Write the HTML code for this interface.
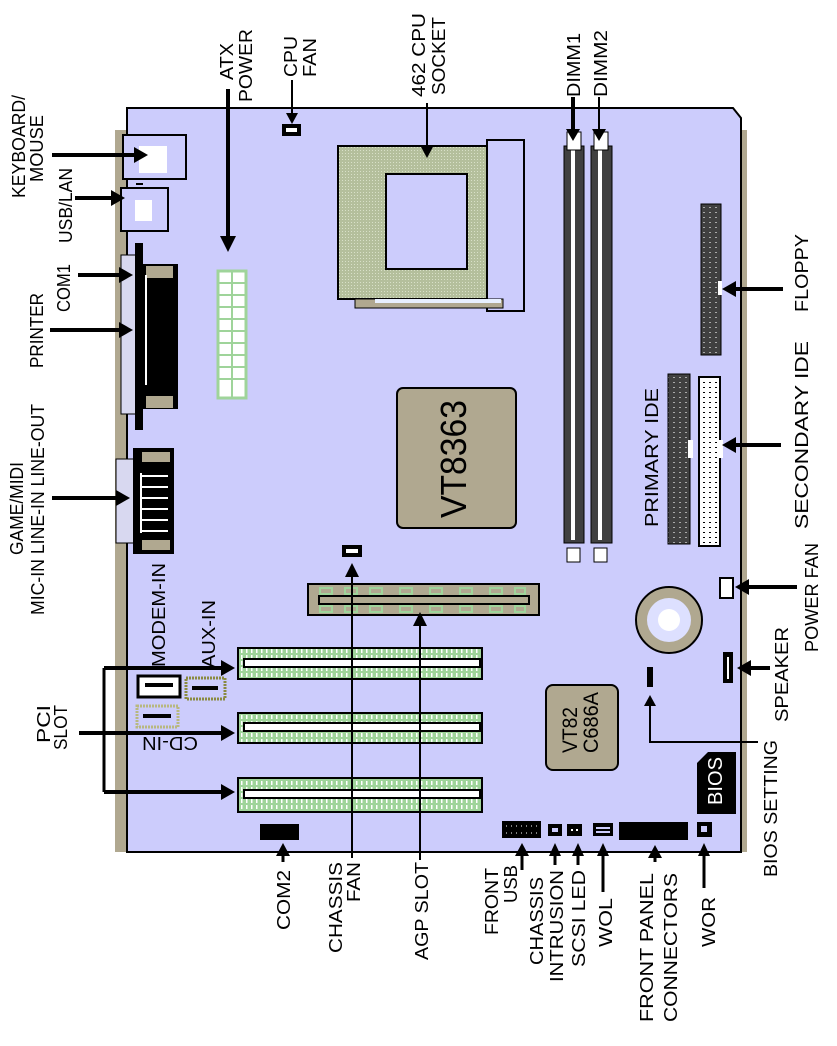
<!DOCTYPE html>
<html><head><meta charset="utf-8"><style>
html,body{margin:0;padding:0;background:#fff;}
svg{display:block;}
text{font-family:"Liberation Sans",sans-serif;font-size:18px;fill:#000;}
</style></head><body>
<svg width="837" height="1046" viewBox="0 0 837 1046" xmlns="http://www.w3.org/2000/svg">
<defs>
<pattern id="pg" width="5" height="6" patternUnits="userSpaceOnUse"><rect width="5" height="6" fill="#9fd49a"/><rect x="1" y="1" width="1.5" height="4" fill="#fff"/></pattern>
<pattern id="dot" width="3" height="3" patternUnits="userSpaceOnUse"><rect width="3" height="3" fill="#b4bf9c"/><rect width="1" height="1" fill="#d8e0c8"/></pattern>
<pattern id="ide" width="6" height="5" patternUnits="userSpaceOnUse"><rect width="6" height="5" fill="#404040"/><rect x="1" y="2" width="2" height="1" fill="#aaa"/></pattern>
<pattern id="idew" width="6" height="5" patternUnits="userSpaceOnUse"><rect width="6" height="5" fill="#fff"/><rect x="1" y="2" width="2" height="1" fill="#000"/></pattern>
</defs>
<rect x="115" y="130" width="14" height="722" fill="#b0a890"/>
<rect x="739" y="130" width="8" height="722" fill="#b0a890"/>
<path d="M127,108 L733,108 L741,118 L741,852 L127,852 Z" fill="#ccccfc" stroke="#000" stroke-width="2"/>

<rect x="123" y="135" width="63" height="44" fill="#ccccfc" stroke="#000" stroke-width="2"/>
<rect x="139" y="146" width="28" height="27" fill="#fff"/>
<rect x="121" y="188" width="47" height="43" fill="#ccccfc" stroke="#000" stroke-width="2"/>
<rect x="135" y="200" width="17" height="21" fill="#fff"/>
<rect x="136" y="183" width="7" height="2" fill="#000"/>
<rect x="121" y="255" width="16" height="159" fill="#d8d8f0" stroke="#000"/>
<rect x="135" y="243" width="8" height="187" fill="#000"/>
<rect x="143" y="264" width="35" height="145" fill="#000"/>
<rect x="146" y="266" width="27" height="12" fill="#b0a890"/>
<rect x="146" y="396" width="27" height="12" fill="#b0a890"/>
<rect x="145" y="275" width="2" height="110" fill="#fff"/>
<rect x="116" y="459" width="18" height="84" fill="#d8d8f0" stroke="#000"/>
<rect x="133" y="448" width="41" height="106" fill="#000"/>
<rect x="142" y="452" width="28" height="10" fill="#b0a890"/>
<rect x="142" y="540" width="28" height="10" fill="#b0a890"/>
<rect x="140" y="473" width="2" height="60" fill="#fff"/>
<rect x="142" y="475" width="26" height="2" fill="#fff"/>
<rect x="142" y="486" width="26" height="2" fill="#fff"/>
<rect x="142" y="497" width="26" height="2" fill="#fff"/>
<rect x="142" y="508" width="26" height="2" fill="#fff"/>
<rect x="142" y="519" width="26" height="2" fill="#fff"/>
<rect x="142" y="530" width="26" height="2" fill="#fff"/>
<rect x="218" y="271" width="28" height="127" fill="#fff" stroke="#9fd49a" stroke-width="3"/>
<path d="M232,271 V398 M218,283 H246 M218,295 H246 M218,307 H246 M218,319 H246 M218,331 H246 M218,343 H246 M218,355 H246 M218,367 H246 M218,379 H246" stroke="#9fd49a" stroke-width="2"/>
<rect x="282" y="124" width="19" height="12" fill="#000"/><rect x="286" y="128" width="11" height="4" fill="#fff"/>
<rect x="487" y="140" width="37" height="171" fill="#ccccfc" stroke="#000" stroke-width="2"/>
<rect x="338" y="146" width="149" height="153" fill="url(#dot)" stroke="#000" stroke-width="2"/>
<rect x="386" y="174" width="81" height="95" fill="#ccccfc" stroke="#000" stroke-width="2"/>
<rect x="355" y="299" width="148" height="9" fill="#b0a890" stroke="#000"/>
<rect x="375" y="299" width="126" height="4" fill="#e8f0ff"/>
<rect x="397" y="388" width="119" height="140" rx="6" fill="#b0a890" stroke="#000" stroke-width="2"/>
<text transform="translate(466,518) rotate(-90)" textLength="118" lengthAdjust="spacingAndGlyphs" style="font-size:36px">VT8363</text>
<rect x="564" y="146" width="20" height="397" fill="#404040" stroke="#000"/>
<rect x="571" y="150" width="4" height="390" fill="#fff"/>
<rect x="591" y="146" width="21" height="397" fill="#404040" stroke="#000"/>
<rect x="598" y="150" width="4" height="390" fill="#fff"/>
<rect x="567" y="132" width="14" height="18" fill="#fff" stroke="#000"/>
<rect x="594" y="132" width="14" height="18" fill="#fff" stroke="#000"/>
<rect x="567" y="548" width="13" height="14" fill="#fff" stroke="#000"/>
<rect x="594" y="548" width="13" height="14" fill="#fff" stroke="#000"/>
<rect x="701" y="204" width="20" height="151" fill="url(#ide)" stroke="#000"/>
<rect x="718" y="281" width="4" height="14" fill="#fff"/>
<rect x="668" y="374" width="22" height="170" fill="url(#ide)" stroke="#000"/>
<rect x="688" y="440" width="5" height="18" fill="#fff"/>
<rect x="699" y="377" width="21" height="169" fill="url(#idew)" stroke="#000" stroke-width="2"/>
<rect x="717" y="440" width="6" height="18" fill="#fff"/>
<rect x="342" y="545" width="20" height="12" fill="#000"/><rect x="346" y="549" width="12" height="4" fill="#fff"/>
<rect x="308" y="584" width="231" height="31" fill="#b0a890" stroke="#000" stroke-width="2"/>
<rect x="319" y="596" width="210" height="8" fill="#b0a890" stroke="#000" stroke-width="2"/>
<g fill="none" stroke="#9fd49a" stroke-width="2">
<path d="M320,588 h12 v6 h-12z M345,588 h12 v6 h-12z M370,588 h12 v6 h-12z M400,588 h12 v6 h-12z M430,588 h12 v6 h-12z M460,588 h12 v6 h-12z M490,588 h12 v6 h-12z M515,588 h10 v6 h-10z"/>
<path d="M320,606 h12 v6 h-12z M345,606 h12 v6 h-12z M370,606 h12 v6 h-12z M400,606 h12 v6 h-12z M430,606 h12 v6 h-12z M460,606 h12 v6 h-12z M490,606 h12 v6 h-12z M515,606 h10 v6 h-10z"/>
</g>
<g stroke="#000" stroke-width="2">
<rect x="238" y="648" width="244" height="31" fill="url(#pg)"/>
<rect x="244" y="659" width="236" height="8" fill="#fff"/>
<rect x="238" y="713" width="244" height="30" fill="url(#pg)"/>
<rect x="244" y="723" width="236" height="8" fill="#fff"/>
<rect x="238" y="778" width="244" height="34" fill="url(#pg)"/>
<rect x="244" y="790" width="236" height="8" fill="#fff"/>
</g>
<circle cx="669" cy="620" r="33" fill="#b0a890" stroke="#000" stroke-width="2"/>
<circle cx="669" cy="620" r="22" fill="#dde0ff"/>
<circle cx="669" cy="620" r="11" fill="#fff"/>
<rect x="720" y="578" width="13" height="20" fill="#fff" stroke="#000" stroke-width="2"/>
<rect x="723" y="652" width="10" height="31" fill="#000"/>
<rect x="727" y="657" width="2" height="22" fill="#fff"/>
<rect x="647" y="667" width="6" height="20" fill="#000"/>
<rect x="546" y="685" width="72" height="85" rx="7" fill="#b0a890" stroke="#000" stroke-width="2"/>
<text transform="translate(577,753) rotate(-90)" textLength="46" lengthAdjust="spacingAndGlyphs" style="font-size:21px">VT82</text>
<text transform="translate(598,753) rotate(-90)" textLength="61" lengthAdjust="spacingAndGlyphs" style="font-size:21px">C686A</text>
<path d="M708,752 H736 V814 H697 V763 Z" fill="#000"/>
<text transform="translate(722,805) rotate(-90)" textLength="48" lengthAdjust="spacingAndGlyphs" style="font-size:20px;fill:#fff">BIOS</text>
<rect x="138" y="676" width="42" height="21" fill="#fff" stroke="#000" stroke-width="3"/>
<rect x="145" y="683" width="28" height="4" fill="#000"/>
<rect x="186" y="678" width="39" height="21" fill="#ccccfc" stroke="#8a8a40" stroke-width="3" stroke-dasharray="2,1"/>
<rect x="192" y="686" width="26" height="4" fill="#000"/>
<rect x="137" y="706" width="41" height="21" fill="#ccccfc" stroke="#b8b880" stroke-width="3" stroke-dasharray="2,1"/>
<rect x="143" y="714" width="28" height="4" fill="#000"/>
<rect x="260" y="824" width="39" height="16" fill="#000"/>
<rect x="502" y="821" width="39" height="17" fill="#000"/>
<path d="M506,826 h32 M506,833 h32" stroke="#fff" stroke-dasharray="1,4"/>
<rect x="548" y="824" width="14" height="12" fill="#000"/><rect x="552" y="828" width="6" height="4" fill="#ccccfc"/>
<rect x="567" y="824" width="15" height="12" fill="#000"/><rect x="571" y="829" width="2" height="2" fill="#fff"/><rect x="576" y="829" width="2" height="2" fill="#fff"/>
<rect x="593" y="823" width="20" height="13" fill="#000"/><rect x="596" y="827" width="14" height="2" fill="#ccccfc"/><rect x="596" y="831" width="14" height="2" fill="#ccccfc"/>
<rect x="619" y="822" width="69" height="18" fill="#000"/>
<rect x="697" y="822" width="15" height="15" fill="#000"/><rect x="701" y="826" width="6" height="6" fill="#ccccfc"/>

<g stroke="#000" fill="none">
<path d="M52,155 H140 M75,198 H118 M78,275 H125 M50,330 H125 M52,498 H122" stroke-width="4"/>
<path d="M104,668 H228 M79,733 H228 M104,792 H228" stroke-width="4"/>
<path d="M104,668 V792" stroke-width="3"/>
<path d="M730,289 H783 M730,445 H781 M742,587 H797 M744,668 H770" stroke-width="4"/>
<path d="M228,89 V240" stroke-width="4"/>
<path d="M292,80 V116 M427,103 V150 M599,97 V132" stroke-width="2"/>
<path d="M573,97 V132" stroke-width="4"/>
<path d="M352,570 V858 M420,620 V860" stroke-width="2"/>
<path d="M283,850 V862 M522,850 V870 M555,850 V865 M578,850 V865 M603,850 V892 M655,852 V862 M704,850 V888" stroke-width="3"/>
<path d="M650,703 V742 H758" stroke-width="2"/>
</g>
<g fill="#000">
<polygon points="148,155 134,147 134,163"/>
<polygon points="125,198 111,190 111,206"/>
<polygon points="133,275 119,267 119,283"/>
<polygon points="133,330 119,322 119,338"/>
<polygon points="130,498 116,490 116,506"/>
<polygon points="235,668 221,660 221,676"/>
<polygon points="235,733 221,725 221,741"/>
<polygon points="235,792 221,784 221,800"/>
<polygon points="722,289 736,281 736,297"/>
<polygon points="722,445 736,437 736,453"/>
<polygon points="735,587 749,579 749,595"/>
<polygon points="737,668 751,660 751,676"/>
<polygon points="228,252 220,236 236,236"/>
<polygon points="292,124 286,113 298,113"/>
<polygon points="427,158 420,145 434,145"/>
<polygon points="573,141 566,129 580,129"/>
<polygon points="599,141 592,129 606,129"/>
<polygon points="352,563 345,577 359,577"/>
<polygon points="420,612 413,626 427,626"/>
<polygon points="283,843 276,856 290,856"/>
<polygon points="522,843 515,856 529,856"/>
<polygon points="555,843 549,856 561,856"/>
<polygon points="578,843 572,856 584,856"/>
<polygon points="603,843 597,856 609,856"/>
<polygon points="655,845 648,858 662,858"/>
<polygon points="704,843 698,856 710,856"/>
<polygon points="650,695 644,706 656,706"/>
</g>

<g>
<text transform="translate(25,198) rotate(-90)" textLength="103" lengthAdjust="spacingAndGlyphs">KEYBOARD/</text>
<text transform="translate(43,182) rotate(-90)" textLength="67" lengthAdjust="spacingAndGlyphs">MOUSE</text>
<text transform="translate(72,243) rotate(-90)" textLength="75" lengthAdjust="spacingAndGlyphs">USB/LAN</text>
<text transform="translate(70,312) rotate(-90)" textLength="48" lengthAdjust="spacingAndGlyphs">COM1</text>
<text transform="translate(43,368) rotate(-90)" textLength="75" lengthAdjust="spacingAndGlyphs">PRINTER</text>
<text transform="translate(23,555) rotate(-90)" textLength="93" lengthAdjust="spacingAndGlyphs">GAME/MIDI</text>
<text transform="translate(44,615) rotate(-90)" textLength="211" lengthAdjust="spacingAndGlyphs">MIC-IN LINE-IN LINE-OUT</text>
<text transform="translate(233,80) rotate(-90)" textLength="37" lengthAdjust="spacingAndGlyphs">ATX</text>
<text transform="translate(252,102) rotate(-90)" textLength="73" lengthAdjust="spacingAndGlyphs">POWER</text>
<text transform="translate(297,77) rotate(-90)" textLength="41" lengthAdjust="spacingAndGlyphs">CPU</text>
<text transform="translate(316,77) rotate(-90)" textLength="39" lengthAdjust="spacingAndGlyphs">FAN</text>
<text transform="translate(425,97) rotate(-90)" textLength="84" lengthAdjust="spacingAndGlyphs">462 CPU</text>
<text transform="translate(445,95) rotate(-90)" textLength="78" lengthAdjust="spacingAndGlyphs">SOCKET</text>
<text transform="translate(580,97) rotate(-90)" textLength="64" lengthAdjust="spacingAndGlyphs">DIMM1</text>
<text transform="translate(607,97) rotate(-90)" textLength="67" lengthAdjust="spacingAndGlyphs">DIMM2</text>
<text transform="translate(808,312) rotate(-90)" textLength="78" lengthAdjust="spacingAndGlyphs">FLOPPY</text>
<text transform="translate(808,529) rotate(-90)" textLength="188" lengthAdjust="spacingAndGlyphs">SECONDARY IDE</text>
<text transform="translate(658,527) rotate(-90)" textLength="139" lengthAdjust="spacingAndGlyphs">PRIMARY IDE</text>
<text transform="translate(818,652) rotate(-90)" textLength="109" lengthAdjust="spacingAndGlyphs">POWER FAN</text>
<text transform="translate(788,722) rotate(-90)" textLength="95" lengthAdjust="spacingAndGlyphs">SPEAKER</text>
<text transform="translate(777,877) rotate(-90)" textLength="137" lengthAdjust="spacingAndGlyphs">BIOS SETTING</text>
<text transform="translate(165,667) rotate(-90)" textLength="104" lengthAdjust="spacingAndGlyphs">MODEM-IN</text>
<text transform="translate(215,668) rotate(-90)" textLength="68" lengthAdjust="spacingAndGlyphs">AUX-IN</text>
<text transform="translate(50,743) rotate(-90)" textLength="38" lengthAdjust="spacingAndGlyphs">PCI</text>
<text transform="translate(67,750) rotate(-90)" textLength="45" lengthAdjust="spacingAndGlyphs">SLOT</text>
<text transform="translate(198,737) rotate(180)" textLength="56" lengthAdjust="spacingAndGlyphs">CD-IN</text>
<text transform="translate(290,930) rotate(-90)" textLength="60" lengthAdjust="spacingAndGlyphs">COM2</text>
<text transform="translate(342,953) rotate(-90)" textLength="91" lengthAdjust="spacingAndGlyphs">CHASSIS</text>
<text transform="translate(360,902) rotate(-90)" textLength="40" lengthAdjust="spacingAndGlyphs">FAN</text>
<text transform="translate(428,960) rotate(-90)" textLength="98" lengthAdjust="spacingAndGlyphs">AGP SLOT</text>
<text transform="translate(498,935) rotate(-90)" textLength="67" lengthAdjust="spacingAndGlyphs">FRONT</text>
<text transform="translate(517,903) rotate(-90)" textLength="38" lengthAdjust="spacingAndGlyphs">USB</text>
<text transform="translate(543,965) rotate(-90)" textLength="88" lengthAdjust="spacingAndGlyphs">CHASSIS</text>
<text transform="translate(563,982) rotate(-90)" textLength="112" lengthAdjust="spacingAndGlyphs">INTRUSION</text>
<text transform="translate(585,967) rotate(-90)" textLength="97" lengthAdjust="spacingAndGlyphs">SCSI LED</text>
<text transform="translate(612,947) rotate(-90)" textLength="49" lengthAdjust="spacingAndGlyphs">WOL</text>
<text transform="translate(653,1022) rotate(-90)" textLength="149" lengthAdjust="spacingAndGlyphs">FRONT PANEL</text>
<text transform="translate(677,1022) rotate(-90)" textLength="149" lengthAdjust="spacingAndGlyphs">CONNECTORS</text>
<text transform="translate(715,947) rotate(-90)" textLength="50" lengthAdjust="spacingAndGlyphs">WOR</text>
</g>
</svg>
</body></html>
